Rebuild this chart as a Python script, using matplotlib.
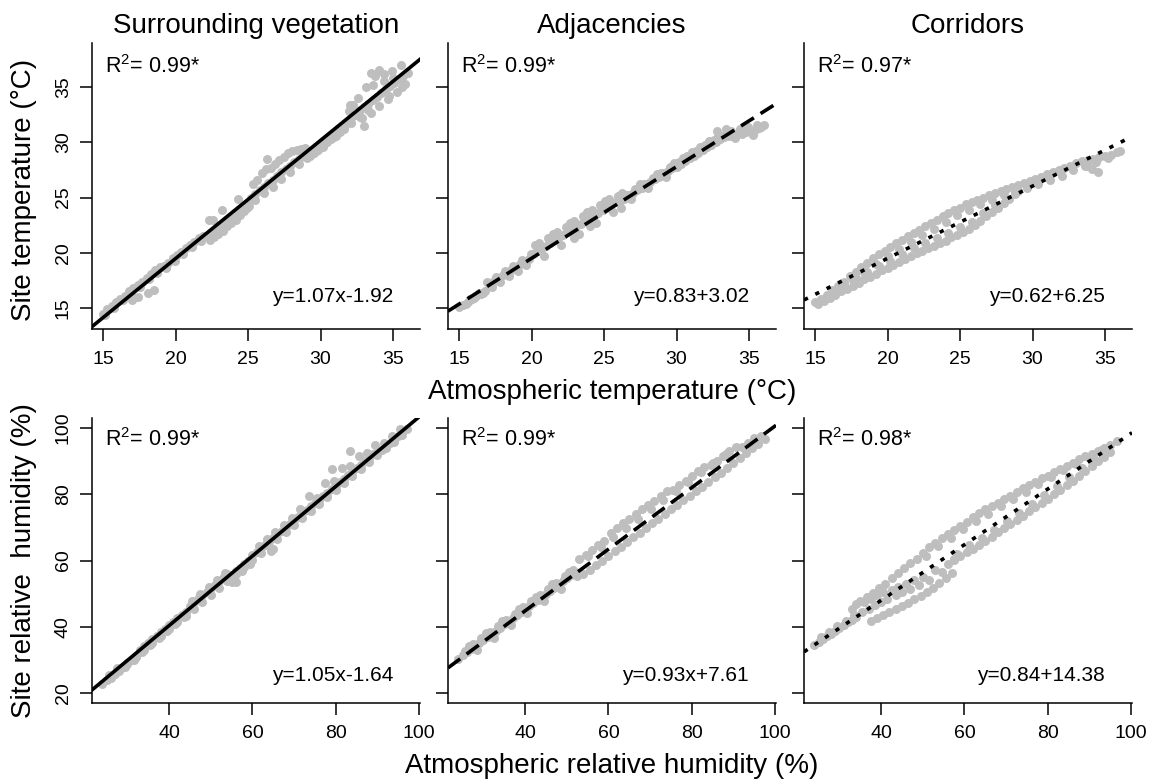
import matplotlib
matplotlib.use("Agg")
import matplotlib.pyplot as plt

plt.rcParams['font.family'] = ['Liberation Sans', 'DejaVu Sans']
plt.rcParams['mathtext.fontset'] = 'custom'
plt.rcParams['mathtext.rm'] = 'Liberation Sans'

# ---- points: (atmospheric value, site value) ----
temp_surr = [
    (15.0, 14.5), (15.3, 14.9), (15.6, 15.2), (15.9, 15.5), (16.2, 15.8), (16.5, 16.1), (16.8, 16.5),
    (17.1, 16.8), (17.4, 17.1), (17.7, 17.4), (18.0, 17.7), (18.3, 18.1), (18.6, 18.4), (18.9, 18.7),
    (19.2, 18.8), (19.5, 19.1), (19.8, 19.5), (20.1, 19.8), (20.4, 20.1), (20.7, 20.4), (21.0, 20.7),
    (21.3, 21.0), (21.6, 21.3), (21.9, 21.5), (22.2, 21.5), (22.5, 21.8), (22.8, 22.1), (23.1, 22.4),
    (23.4, 22.7), (23.7, 23.0), (24.0, 23.4), (24.3, 23.7), (24.6, 24.0), (24.9, 24.4), (25.2, 25.0),
    (25.5, 25.3), (25.8, 25.7), (26.1, 26.0), (26.4, 26.3), (26.7, 26.6), (27.0, 27.0), (27.3, 27.3),
    (27.6, 27.6), (27.9, 27.9), (28.2, 28.2), (28.5, 28.5), (28.8, 28.9), (29.1, 28.9), (29.4, 29.2),
    (29.7, 29.6), (30.0, 29.9), (30.3, 30.2), (30.6, 30.5), (30.9, 30.8), (31.2, 31.2), (31.5, 31.5),
    (31.8, 31.8), (32.1, 32.2), (32.4, 32.5), (32.7, 32.9), (33.0, 33.2), (33.3, 33.5), (33.6, 33.8),
    (33.9, 34.1), (34.2, 34.5), (34.5, 34.8), (34.8, 35.1), (35.1, 35.4), (35.4, 35.7), (35.7, 36.0),
    (36.0, 36.3),
    (15.15, 14.4), (15.75, 15.0), (16.35, 15.7), (16.95, 16.3), (17.55, 16.9), (18.15, 17.6),
    (18.75, 18.2), (19.35, 18.6), (19.95, 19.3), (20.55, 19.9), (21.15, 20.5), (21.75, 21.1),
    (22.35, 21.2), (22.65, 21.4), (22.95, 21.7), (23.25, 22.0), (23.55, 22.4), (23.85, 22.7),
    (24.15, 23.0), (24.45, 23.4), (24.75, 23.8), (25.05, 24.2), (25.35, 26.2), (25.65, 26.6),
    (25.95, 27.2), (26.25, 27.6), (26.55, 27.7), (26.85, 28.0), (27.15, 28.4), (27.45, 28.7),
    (27.75, 29.0), (28.05, 29.2), (28.35, 29.3), (28.65, 29.4), (28.95, 29.5), (29.25, 28.8),
    (29.55, 29.0), (29.85, 29.3), (30.15, 29.6), (30.45, 30.0), (30.75, 30.3), (31.05, 30.6),
    (31.35, 30.9), (31.65, 31.2), (31.95, 32.8), (32.25, 33.4), (32.55, 34.0), (32.85, 32.2),
    (33.15, 35.0), (33.45, 32.7), (33.75, 36.0), (34.05, 33.3), (34.35, 36.2), (34.65, 33.9),
    (34.95, 36.5), (35.25, 34.6), (35.55, 37.0), (35.85, 35.3),
    (24.3, 23.5), (24.9, 24.1), (25.5, 24.8), (26.1, 25.4), (26.7, 26.0), (27.3, 26.7), (27.9, 27.3),
    (28.5, 28.0), (29.1, 28.6), (29.7, 29.2), (30.3, 29.9), (30.9, 30.5), (31.5, 31.2), (32.1, 31.8),
    (32.7, 32.3), (33.3, 32.9),
    (17.0, 15.7), (17.4, 16.0), (18.1, 16.4), (18.5, 16.6), (22.3, 23.0), (22.6, 23.0), (23.2, 23.9),
    (24.3, 24.9), (26.3, 28.5), (33.5, 36.3), (34.0, 36.6), (32.0, 33.4), (33.0, 31.5),
    (34.4, 35.6), (35.0, 35.8), (35.6, 35.0), (34.7, 34.2), (33.6, 35.2),
]

temp_adj = [
    (15.0, 15.05), (15.3, 15.3), (15.6, 15.55), (15.9, 15.8), (16.2, 16.05), (16.5, 16.3), (16.8, 16.55),
    (17.1, 17.2), (17.4, 17.45), (17.7, 17.7), (18.0, 17.95), (18.3, 18.2), (18.6, 18.45), (18.9, 18.7),
    (19.2, 18.95), (19.5, 19.2), (19.8, 19.45), (20.1, 19.9), (20.4, 20.15), (20.7, 20.4), (21.0, 20.65),
    (21.3, 20.9), (21.6, 21.15), (21.9, 21.4), (22.2, 21.65), (22.5, 21.9), (22.8, 22.1), (23.1, 22.4),
    (23.4, 22.6), (23.7, 22.9), (24.0, 23.1), (24.3, 23.4), (24.6, 23.6), (24.9, 23.9), (25.2, 24.1),
    (25.5, 24.4), (25.8, 24.6), (26.1, 24.7), (26.4, 24.9), (26.7, 25.2), (27.0, 25.4), (27.3, 25.7),
    (27.6, 25.9), (27.9, 26.2), (28.2, 26.4), (28.5, 26.7), (28.8, 26.9), (29.1, 27.2), (29.4, 27.4),
    (29.7, 27.7), (30.0, 27.8), (30.3, 28.05), (30.6, 28.3), (30.9, 28.55), (31.2, 28.8), (31.5, 29.05),
    (31.8, 29.3), (32.1, 29.55), (32.4, 29.8), (32.7, 30.0), (33.0, 30.3), (33.3, 30.5), (33.6, 30.6),
    (33.9, 30.7), (34.2, 30.8), (34.5, 30.8), (34.8, 30.9), (35.1, 31.0), (35.4, 31.1), (35.7, 31.3),
    (36.0, 31.6),
    (15.45, 15.37), (16.05, 15.87), (16.65, 16.37), (17.25, 16.87), (17.85, 17.37), (18.45, 17.86),
    (19.05, 18.36), (19.65, 18.86), (20.25, 20.71), (20.85, 19.71), (21.45, 21.7), (22.05, 20.7),
    (22.65, 22.7), (23.25, 21.7), (23.85, 23.7), (24.45, 22.7), (25.05, 24.7), (25.65, 23.7),
    (26.25, 25.4), (26.85, 24.9), (27.45, 26.2), (28.05, 25.9), (28.65, 27.1), (29.25, 26.9),
    (29.85, 28.1), (30.45, 28.6), (31.05, 29.1), (31.65, 29.6), (32.25, 30.1), (32.85, 30.6),
    (33.45, 31.0), (34.05, 30.4), (34.65, 31.2), (35.25, 30.7), (35.85, 31.4),
    (15.75, 15.85), (16.35, 16.35), (16.95, 17.35), (17.55, 17.85), (18.15, 18.35), (18.75, 18.85),
    (19.35, 19.35), (19.95, 19.85), (20.55, 20.85), (21.15, 21.35), (21.75, 21.85), (22.35, 22.35),
    (22.95, 22.85), (23.55, 23.35), (24.15, 23.85), (24.75, 24.35), (25.35, 24.85), (25.95, 25.1),
    (26.55, 25.25), (27.15, 25.75), (27.75, 26.25), (28.35, 26.75), (28.95, 27.25), (29.55, 27.75),
    (30.15, 28.25), (30.75, 28.75), (31.35, 29.25), (31.95, 29.75), (32.55, 30.2), (33.15, 30.6),
    (33.75, 31.0), (34.35, 31.2), (34.95, 31.4), (35.55, 31.6),
    (22.9, 21.3), (24.0, 22.4), (26.2, 24.1), (32.8, 31.0), (33.4, 31.2),
]

temp_corr = [
    (15.0, 15.5), (15.4, 15.8), (15.8, 16.2), (16.2, 16.6), (16.6, 17.0), (17.0, 17.4), (17.4, 17.9),
    (17.8, 18.3), (18.2, 18.7), (18.6, 19.1), (19.0, 19.5), (19.4, 19.9), (19.8, 20.2), (20.2, 20.5),
    (20.6, 20.9), (21.0, 21.2), (21.4, 21.5), (21.8, 21.8), (22.2, 22.1), (22.6, 22.4), (23.0, 22.7),
    (23.4, 23.0), (23.8, 23.3), (24.2, 23.6), (24.6, 23.9), (25.0, 24.1), (25.4, 24.4), (25.8, 24.6),
    (26.2, 24.8), (26.6, 25.0), (27.0, 25.2), (27.4, 25.4), (27.8, 25.6), (28.2, 25.8), (28.6, 26.0),
    (29.0, 26.1), (29.4, 26.3), (29.8, 26.5), (30.2, 26.7), (30.6, 26.9), (31.0, 27.1), (31.4, 27.3),
    (31.8, 27.5), (32.2, 27.7), (32.6, 27.9), (33.0, 28.1), (33.4, 28.3), (33.8, 28.4), (34.2, 28.5),
    (34.6, 28.7), (35.0, 28.8), (35.4, 28.9), (35.8, 29.1),
    (15.2, 15.4), (16.0, 16.0), (16.8, 16.7), (17.6, 17.5), (18.4, 18.3), (19.2, 19.0), (20.0, 19.7),
    (20.8, 20.3), (21.6, 21.0), (22.4, 21.6), (23.2, 22.2), (24.0, 22.8), (24.8, 23.4), (25.6, 23.9),
    (26.4, 24.4), (27.2, 24.8), (28.0, 25.2), (28.8, 25.5), (29.6, 25.9), (30.4, 26.2), (31.2, 26.6),
    (32.0, 27.0), (32.8, 27.5), (33.6, 27.9), (34.4, 28.2), (35.2, 28.6), (36.0, 29.2),
    (15.6, 15.6), (16.0, 15.9), (16.4, 16.2), (16.8, 16.5), (17.2, 16.7), (17.6, 17.0), (18.0, 17.3),
    (18.4, 17.6), (18.8, 17.8), (19.2, 18.1), (19.6, 18.4), (20.0, 18.6), (20.4, 18.9), (20.8, 19.2),
    (21.2, 19.4), (21.6, 19.7), (22.0, 20.0), (22.4, 20.2), (22.8, 20.4), (23.2, 20.6), (23.6, 20.9),
    (24.0, 21.1), (24.4, 21.4), (24.8, 21.6), (25.2, 21.9), (25.6, 22.2), (26.0, 22.5), (26.4, 22.9),
    (26.8, 23.3), (27.2, 23.7), (27.6, 24.1), (28.0, 24.5), (28.4, 24.9), (28.8, 25.3),
    (16.2, 16.5), (17.0, 17.2), (17.8, 17.7), (18.6, 18.3), (19.4, 18.8), (20.2, 19.3), (21.0, 19.9),
    (21.8, 20.4), (22.6, 20.9), (23.4, 21.3), (24.2, 21.8), (25.0, 22.3), (25.8, 22.8), (26.6, 23.6),
    (27.4, 24.3), (28.2, 25.0), (29.0, 25.6),
    (34.1, 27.6), (34.5, 27.3), (33.8, 27.9),
]

hum_surr = [
    (24, 22.8), (25, 23.8), (26, 24.9), (27, 25.9), (28, 27.0), (29, 28.0), (30, 29.1), (31, 30.1),
    (32, 31.2), (33, 33.0), (34, 34.1), (35, 35.1), (36, 36.2), (37, 37.2), (38, 38.3), (39, 39.3),
    (40, 40.4), (41, 41.4), (42, 42.5), (43, 43.5), (44, 44.6), (45, 46.3), (46, 47.4), (47, 48.4),
    (48, 49.5), (49, 50.5), (50, 51.6), (51, 52.6), (52, 53.7), (53, 54.7), (54, 55.8), (55, 55.6),
    (56, 56.7), (57, 57.7), (58, 58.8), (59, 59.8), (60, 61.6), (61, 62.6), (62, 63.7), (63, 64.7),
    (64, 65.8), (65, 66.8), (66, 67.9), (67, 68.9), (68, 70.0), (69, 71.0), (70, 72.1), (71, 73.1),
    (72, 74.2), (73, 75.2), (74, 76.3), (75, 77.3), (76, 78.4), (77, 79.4), (78, 80.5), (79, 81.5),
    (80, 82.6), (81, 83.6), (82, 84.7), (83, 85.7), (84, 86.8), (85, 87.8), (86, 88.9), (87, 89.9),
    (88, 91.0), (89, 92.0), (90, 92.4), (91, 93.4), (92, 94.5), (93, 95.5), (94, 96.6), (95, 97.6),
    (96, 98.7), (97, 99.7),
    (25.5, 25.6), (27.5, 27.7), (29.5, 28.0), (31.5, 30.0), (33.5, 32.5), (35.5, 34.6), (37.5, 36.7),
    (39.5, 38.8), (41.5, 40.9), (43.5, 43.0), (45.5, 47.9), (47.5, 50.0), (49.5, 52.1), (51.5, 54.2),
    (53.5, 56.3), (55.5, 54.6), (57.5, 56.7), (59.5, 58.8), (61.5, 64.4), (63.5, 66.5), (65.5, 68.6),
    (67.5, 70.7), (69.5, 72.8), (71.5, 75.5), (73.5, 79.5), (75.5, 79.0), (77.5, 83.5), (79.5, 84.0),
    (81.5, 88.0), (83.5, 88.5), (85.5, 91.5), (87.5, 92.5), (89.5, 95.0), (91.5, 95.4), (93.5, 97.5),
    (95.5, 99.6),
    (26, 24.5), (28, 26.6), (30, 28.7), (32, 30.8), (34, 32.9), (36, 35.0), (38, 37.1), (40, 39.2),
    (42, 41.3), (44, 43.4), (46, 45.5), (48, 47.6), (50, 49.7), (52, 51.8), (54, 53.9), (56, 56.0),
    (58, 58.1), (60, 60.2), (62, 62.3), (64, 64.4), (66, 66.5), (68, 68.6), (70, 70.7), (72, 72.8),
    (74, 74.9), (76, 77.0), (78, 79.1), (80, 81.2), (82, 83.3), (84, 85.4), (86, 87.5), (88, 89.6),
    (90, 91.7), (92, 93.8), (94, 95.9), (96, 98.0),
    (79, 87.5), (83.5, 93.0), (64.5, 63.0), (56.0, 53.6), (55.0, 53.4), (65, 63.5),
]

hum_adj = [
    (24, 30.4), (25, 31.4), (26, 32.3), (27, 33.2), (28, 34.2), (29, 35.1), (30, 36.0), (31, 37.0),
    (32, 37.9), (33, 38.8), (34, 39.7), (35, 40.7), (36, 41.6), (37, 42.5), (38, 43.5), (39, 44.4),
    (40, 45.3), (41, 46.2), (42, 47.2), (43, 48.1), (44, 49.0), (45, 50.0), (46, 50.9), (47, 51.8),
    (48, 52.8), (49, 53.7), (50, 54.6), (51, 55.5), (52, 56.5),
    (26.5, 34.3), (28.5, 32.9), (30.5, 38.0), (32.5, 36.6), (34.5, 41.7), (36.5, 40.4), (38.5, 45.4),
    (40.5, 44.1), (42.5, 49.1), (44.5, 47.8), (46.5, 52.9), (48.5, 51.5), (50.5, 56.6), (52.5, 55.2),
    (25.5, 32.8), (27.5, 34.7), (29.5, 36.5), (31.5, 38.4), (33.5, 40.3), (35.5, 42.1), (37.5, 44.0),
    (39.5, 45.9), (41.5, 47.7), (43.5, 49.6), (45.5, 51.4), (47.5, 53.3), (49.5, 55.2), (51.5, 57.0),
    (53, 60.4), (54.5, 61.8), (56, 63.2), (57.5, 64.6), (59, 66.0), (60.5, 68.4), (62, 69.8),
    (63.5, 71.2), (65, 72.6), (66.5, 74.0), (68, 75.4), (69.5, 76.8), (71, 78.1), (72.5, 79.5),
    (74, 80.9), (75.5, 81.3), (77, 82.7), (78.5, 84.1), (80, 85.5), (81.5, 86.9), (83, 88.3),
    (84.5, 88.7), (86, 90.1), (87.5, 91.5), (89, 92.9), (90.5, 94.3), (92, 94.2), (93.5, 95.6),
    (95, 97.0), (96.5, 97.6),
    (55.2, 61.5), (58.2, 64.2), (61.2, 67.0), (64.2, 69.8), (67.2, 72.6), (70.2, 75.4), (73.2, 78.2),
    (76.2, 81.0), (79.2, 83.8), (82.2, 86.6), (85.2, 89.4), (88.2, 92.1),
    (54, 55.8), (55.5, 57.2), (57, 58.6), (58.5, 60.0), (60, 61.4), (61.5, 62.8), (63, 64.2),
    (64.5, 65.6), (66, 67.0), (67.5, 68.4), (69, 69.8), (70.5, 71.2), (72, 72.6), (73.5, 74.0),
    (75, 75.4), (76.5, 76.8), (78, 78.2), (79.5, 79.6), (81, 80.9), (82.5, 82.3), (84, 83.7),
    (85.5, 85.1), (87, 86.5), (88.5, 87.9), (90, 89.5), (91.5, 90.9), (93, 92.4), (94.5, 93.8),
    (96, 95.3), (97.5, 96.6),
]

hum_corr = [
    (24, 34.5), (25, 35.4), (26, 36.2), (27, 37.1), (28, 37.9), (29, 38.7), (30, 39.6), (31, 40.4),
    (32, 41.3), (33, 42.1), (34, 42.9),
    (25.5, 36.8), (27.5, 38.5), (29.5, 40.2), (31.5, 41.8), (33.5, 43.5),
    (35, 47.8), (36.5, 49.0), (38, 50.3), (39.5, 51.6), (41, 52.8), (42.5, 54.6), (44, 56.1),
    (45.5, 57.6), (47, 59.1), (48.5, 60.6), (50, 62.4), (51.5, 64.1), (53, 65.4), (54.5, 66.7),
    (56, 67.9), (57.5, 69.2), (59, 70.4), (60.5, 71.7), (62, 73.0), (63.5, 74.2), (65, 75.5),
    (66.5, 76.4), (68, 77.5), (69.5, 78.6), (71, 79.6), (72.5, 80.7), (74, 81.8), (75.5, 82.9),
    (77, 83.8), (78.5, 84.8), (80, 85.6), (81.5, 86.6), (83, 87.6), (84.5, 88.5), (86, 89.5),
    (87.5, 90.5), (89, 91.4), (90.5, 92.2), (92, 93.0), (93.5, 94.0), (95, 95.0), (96.5, 96.0),
    (50.75, 61.5), (53.75, 64.3), (56.75, 66.9), (59.75, 69.4), (62.75, 71.9), (65.75, 74.1),
    (68.75, 76.3), (71.75, 78.6), (74.75, 80.8), (77.75, 83.0), (80.75, 85.2), (83.75, 87.2),
    (86.75, 89.1), (89.75, 91.3), (92.75, 93.3),
    (33.0, 45.5), (34.0, 46.8), (35.5, 44.5), (36.0, 47.5), (37.0, 45.5), (37.5, 48.5), (38.5, 46.5),
    (39.0, 49.5), (40.0, 47.5), (40.5, 50.5), (41.5, 48.5), (42.5, 51.0), (43.5, 49.5), (44.0, 52.0),
    (45.0, 50.5), (46.0, 53.0), (47.0, 51.5), (48.0, 54.0), (49.0, 52.5), (50.0, 55.0), (51.5, 54.0),
    (53.0, 57.0), (54.5, 56.5), (56.0, 59.0), (57.5, 60.5),
    (37.5, 41.8), (39, 42.7), (40.5, 43.6), (42, 44.5), (43.5, 45.4), (45, 46.4), (46.5, 47.3),
    (48, 48.3), (49.5, 49.4), (51, 50.6), (52.5, 51.8), (54, 53.1), (55.5, 54.6), (57, 56.2),
    (57.5, 60.2), (59, 61.4), (60.5, 62.5), (62, 63.6), (63.5, 64.7), (65, 66.0), (66.5, 67.2),
    (68, 68.5), (69.5, 69.8), (71, 71.0), (72.5, 72.3), (74, 73.5), (75.5, 74.8), (77, 76.1),
    (78.5, 77.3), (80, 78.6), (81.5, 80.0), (83, 81.3), (84.5, 82.7), (86, 84.0), (87.5, 85.5),
    (89, 86.9), (90.5, 88.4), (92, 89.9), (93.5, 91.2), (95, 92.6),
    (58.2, 62.1), (61.2, 64.6), (64.2, 66.8), (67.2, 69.3), (70.2, 71.9), (73.2, 74.4), (76.2, 77.2),
    (79.2, 79.9), (82.2, 82.4), (85.2, 85.2), (88.2, 87.9), (91.2, 90.5),
]

# regression lines as drawn (slope, intercept) and the printed labels
slopes = [1.07, 0.83, 0.654, 1.05, 0.93, 0.84]
intercepts = [-1.92, 2.9, 6.42, -1.64, 7.61, 14.38]
r2_labels = ["0.99*", "0.99*", "0.97*", "0.99*", "0.99*", "0.98*"]
eq_labels = ["y=1.07x-1.92", "y=0.83+3.02", "y=0.62+6.25",
             "y=1.05x-1.64", "y=0.93x+7.61", "y=0.84+14.38"]
titles = ["Surrounding vegetation", "Adjacencies", "Corridors"]

panels = [temp_surr, temp_adj, temp_corr, hum_surr, hum_adj, hum_corr]
line_styles = ['-', (0, (4.2, 2.2)), (0, (1.2, 2.3))]

fig = plt.figure(figsize=(11.55, 7.81), dpi=100)
W, H = 1155, 781
lefts = [92, 448, 804]
row_box = [(43, 329), (418, 703)]  # top, bottom of plot region in pixels

for i, pts in enumerate(panels):
    row, col = divmod(i, 3)
    top, bot = row_box[row]
    ax = fig.add_axes([lefts[col] / W, 1 - bot / H, 328 / W, (bot - top) / H])
    xs = [p[0] for p in pts]
    ys = [p[1] for p in pts]
    ax.scatter(xs, ys, s=42, color='#bebebe', linewidths=0, zorder=2)
    ax.axline((0, intercepts[i]), slope=slopes[i], color='black', lw=2.6,
              linestyle=line_styles[col], zorder=3)
    if row == 0:
        ax.set_xlim(14.24, 36.86)
        ax.set_ylim(13.1, 39.0)
        ax.set_xticks([15, 20, 25, 30, 35])
        ax.set_yticks([15, 20, 25, 30, 35])
        ax.set_title(titles[col], fontsize=20, pad=7)
        r2_y, eq_y = 0.916, 0.112
    else:
        ax.set_xlim(21.5, 100.2)
        ax.set_ylim(17.0, 103.0)
        ax.set_xticks([40, 60, 80, 100])
        ax.set_yticks([20, 40, 60, 80, 100])
        r2_y, eq_y = 0.923, 0.098
    ax.text(0.04, r2_y, r"R$^{\mathregular{2}}$= " + r2_labels[i], transform=ax.transAxes,
            fontsize=15.5, va='center', ha='left')
    ax.text(0.918, eq_y, eq_labels[i], transform=ax.transAxes,
            fontsize=15, va='center', ha='right')
    for side in ['top', 'right']:
        ax.spines[side].set_visible(False)
    for side in ['left', 'bottom']:
        ax.spines[side].set_linewidth(1.1)
    ax.tick_params(length=8.5, width=1.1, labelsize=14, direction='out')
    ax.tick_params(axis='x', pad=7)
    ax.tick_params(axis='y', pad=6)
    if col == 0:
        for lab in ax.get_yticklabels():
            lab.set_rotation(90)
            lab.set_va('center')
    else:
        ax.set_yticklabels([])

fig.text(24 / W, 1 - 190 / H, "Site temperature (°C)", rotation=90, fontsize=20,
         ha='center', va='center')
fig.text(24 / W, 1 - 561 / H, "Site relative  humidity (%)", rotation=90, fontsize=20,
         ha='center', va='center')
fig.text(612 / W, 1 - 399 / H, "Atmospheric temperature (°C)", fontsize=20,
         ha='center', va='baseline')
fig.text(612 / W, 1 - 773 / H, "Atmospheric relative humidity (%)", fontsize=20,
         ha='center', va='baseline')

fig.savefig("out.png", dpi=100)
